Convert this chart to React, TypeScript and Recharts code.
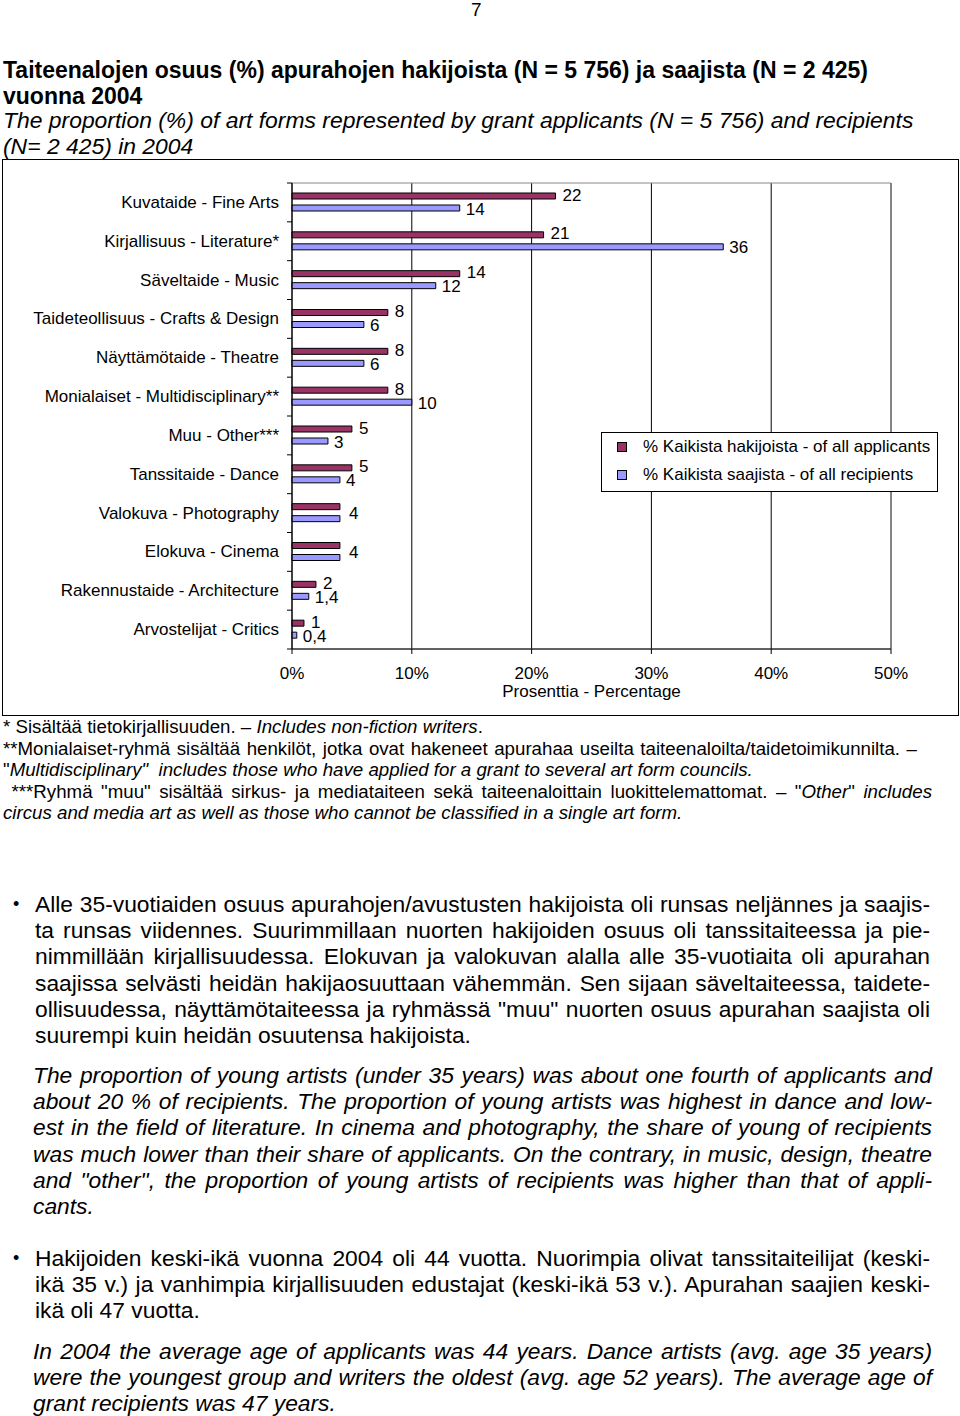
import React from "react";
import {
  Bar,
  BarChart,
  CartesianGrid,
  LabelList,
  Legend,
  ReferenceArea,
  XAxis,
  YAxis,
} from "recharts";

const categories = [
  "Kuvataide - Fine Arts",
  "Kirjallisuus - Literature*",
  "Säveltaide - Music",
  "Taideteollisuus - Crafts & Design",
  "Näyttämötaide - Theatre",
  "Monialaiset - Multidisciplinary**",
  "Muu - Other***",
  "Tanssitaide - Dance",
  "Valokuva - Photography",
  "Elokuva - Cinema",
  "Rakennustaide - Architecture",
  "Arvostelijat - Critics",
];
const applicants = [22, 21, 14, 8, 8, 8, 5, 5, 4, 4, 2, 1];
const recipients = [14, 36, 12, 6, 6, 10, 3, 4, 4, 4, 1.4, 0.4];
const xTicks = [0, 10, 20, 30, 40, 50];

const data = categories.map((name, i) => ({
  name,
  applicants: applicants[i],
  recipients: recipients[i],
}));

const CHART_W = 960;
const CHART_H = 720;
const PLOT_LEFT = 292;
const PLOT_TOP = 183;
const PLOT_RIGHT = 891;
const PLOT_BOTTOM = 649;
const HALF_BAND = (PLOT_BOTTOM - PLOT_TOP) / categories.length / 2;

const FONT = "'Liberation Sans', Arial, sans-serif";
const FS = 17;

const fmt = (v: number) => String(v).replace(".", ",");

function YTick(props: any) {
  const { x, y, payload, index } = props;
  return (
    <g>
      <text x={x} y={y} textAnchor="end" dominantBaseline="central" fontSize={FS} fill="#000" fontFamily={FONT}>
        {payload.value}
      </text>
      <line x1={PLOT_LEFT - 5} x2={PLOT_LEFT} y1={y + HALF_BAND} y2={y + HALF_BAND} stroke="#000" />
      {index === 0 && (
        <line x1={PLOT_LEFT - 5} x2={PLOT_LEFT} y1={y - HALF_BAND} y2={y - HALF_BAND} stroke="#000" />
      )}
    </g>
  );
}

function applicantLabel(props: any) {
  const { x, y, width, height, value, index } = props;
  const same = applicants[index] === recipients[index];
  return (
    <text
      x={x + width + (same ? 9 : 7)}
      y={same ? y + height + 3.5 : y + height / 2 - 1}
      dominantBaseline="central"
      fontSize={FS}
      fill="#000"
      fontFamily={FONT}
    >
      {fmt(value)}
    </text>
  );
}

function recipientLabel(props: any) {
  const { x, y, width, height, value, index } = props;
  if (applicants[index] === recipients[index]) return null;
  return (
    <text
      x={x + width + 6}
      y={y + height / 2 + 1}
      dominantBaseline="central"
      fontSize={FS}
      fill="#000"
      fontFamily={FONT}
    >
      {fmt(value)}
    </text>
  );
}

function LegendBox(props: any) {
  const items = props.payload || [];
  return (
    <div
      style={{
        width: 335,
        height: 58,
        border: "1px solid #000",
        background: "#fff",
        fontFamily: FONT,
        fontSize: FS,
        color: "#000",
      }}
    >
      {items.map((it: any, i: number) => (
        <div
          key={i}
          style={{ position: "absolute", left: 16, top: 5 + i * 28, height: 20, display: "flex", alignItems: "center" }}
        >
          <span
            style={{
              display: "inline-block",
              width: 8,
              height: 8,
              background: it.color,
              border: "1px solid #000",
              marginRight: 16,
            }}
          />
          <span>{it.value}</span>
        </div>
      ))}
    </div>
  );
}

function TextLine({
  children,
  top,
  left,
  width,
  justify,
  style,
}: {
  children: React.ReactNode;
  top: number;
  left: number;
  width: number;
  justify?: boolean;
  style?: React.CSSProperties;
}) {
  return (
    <div
      style={{
        position: "absolute",
        top,
        left,
        width,
        textAlign: justify ? "justify" : "left",
        textAlignLast: justify ? "justify" : "left",
        whiteSpace: "nowrap",
        ...style,
      }}
    >
      {children}
    </div>
  );
}

const para1 = [
  "Alle 35-vuotiaiden osuus apurahojen/avustusten hakijoista oli runsas neljännes ja saajis-",
  "ta runsas viidennes. Suurimmillaan nuorten hakijoiden osuus oli tanssitaiteessa ja pie-",
  "nimmillään kirjallisuudessa. Elokuvan ja valokuvan alalla alle 35-vuotiaita oli apurahan",
  "saajissa selvästi heidän hakijaosuuttaan vähemmän. Sen sijaan säveltaiteessa, taidete-",
  "ollisuudessa, näyttämötaiteessa ja ryhmässä \"muu\" nuorten osuus apurahan saajista oli",
  "suurempi kuin heidän osuutensa hakijoista.",
];
const para2 = [
  "The proportion of young artists (under 35 years) was about one fourth of applicants and",
  "about 20 % of recipients. The proportion of young artists was highest in dance and low-",
  "est in the field of literature. In cinema and photography, the share of young of recipients",
  "was much lower than their share of applicants. On the contrary, in music, design, theatre",
  "and \"other\", the proportion of young artists of recipients was higher than that of appli-",
  "cants.",
];
const para3 = [
  "Hakijoiden keski-ikä vuonna 2004 oli 44 vuotta. Nuorimpia olivat tanssitaiteilijat (keski-",
  "ikä 35 v.) ja vanhimpia kirjallisuuden edustajat (keski-ikä 53 v.). Apurahan saajien keski-",
  "ikä oli 47 vuotta.",
];
const para4 = [
  "In 2004 the average age of applicants was 44 years. Dance artists (avg. age 35 years)",
  "were the youngest group and writers the oldest (avg. age 52 years). The average age of",
  "grant recipients was 47 years.",
];

function Paragraph({
  lines,
  firstCenter,
  left,
  right,
  italic,
}: {
  lines: string[];
  firstCenter: number;
  left: number;
  right: number;
  italic?: boolean;
}) {
  const lh = 26.2;
  return (
    <>
      {lines.map((l, i) => (
        <TextLine
          key={i}
          top={firstCenter + i * lh - 13}
          left={left}
          width={right - left}
          justify={i < lines.length - 1}
          style={{ fontStyle: italic ? "italic" : "normal", lineHeight: "26px" }}
        >
          {l}
        </TextLine>
      ))}
    </>
  );
}

export default function App() {
  return (
    <div
      style={{
        position: "absolute",
        left: 0,
        top: 0,
        width: 960,
        height: 1416,
        background: "#fff",
        color: "#000",
        fontFamily: FONT,
        overflow: "hidden",
      }}
    >
      <TextLine top={0} left={471} width={20} style={{ fontSize: 19, lineHeight: "20px" }}>
        7
      </TextLine>

      <div style={{ fontSize: 23, lineHeight: "26px", fontWeight: "bold" }}>
        <TextLine top={57} left={3} width={940}>
          Taiteenalojen osuus (%) apurahojen hakijoista (N = 5 756) ja saajista (N = 2 425)
        </TextLine>
        <TextLine top={83} left={3} width={300}>
          vuonna 2004
        </TextLine>
      </div>
      <div style={{ fontSize: 22.9, lineHeight: "26px", fontStyle: "italic" }}>
        <TextLine top={107} left={3} width={940}>
          The proportion (%) of art forms represented by grant applicants (N = 5 756) and recipients
        </TextLine>
        <TextLine top={133} left={3} width={300}>
          (N= 2 425) in 2004
        </TextLine>
      </div>

      <div
        style={{
          position: "absolute",
          left: 2,
          top: 159,
          width: 955,
          height: 555,
          border: "1px solid #000",
        }}
      />

      <div style={{ position: "absolute", left: 0, top: 0 }}>
        <BarChart
          width={CHART_W}
          height={CHART_H}
          data={data}
          layout="vertical"
          margin={{
            top: PLOT_TOP,
            right: CHART_W - PLOT_RIGHT,
            bottom: CHART_H - PLOT_BOTTOM - 60,
            left: 0,
          }}
          barSize={6}
          barGap={6}
        >
          <CartesianGrid horizontal={false} stroke="#000" />
          <ReferenceArea x1={0} x2={50} stroke="#888" fill="none" strokeOpacity={1} fillOpacity={0} />
          <XAxis
            type="number"
            domain={[0, 50]}
            ticks={xTicks}
            tickFormatter={(v) => `${v}%`}
            tick={{ fontSize: FS, fill: "#000", fontFamily: FONT }}
            tickLine={{ stroke: "#000" }}
            axisLine={{ stroke: "#000" }}
            tickSize={5}
            tickMargin={13}
            height={60}
            label={{
              value: "Prosenttia - Percentage",
              position: "insideBottom",
              offset: 12,
              fontSize: FS,
              fill: "#000",
              fontFamily: FONT,
            }}
          />
          <YAxis
            type="category"
            dataKey="name"
            width={PLOT_LEFT}
            tick={<YTick />}
            tickLine={false}
            tickSize={5}
            tickMargin={8}
            axisLine={{ stroke: "#000" }}
            interval={0}
          />
          <Legend
            layout="vertical"
            align="center"
            verticalAlign="middle"
            wrapperStyle={{ left: 601, top: 432, width: 337, height: 60 }}
            content={<LegendBox />}
          />
          <Bar
            dataKey="applicants"
            name="% Kaikista hakijoista - of all applicants"
            fill="#993366"
            stroke="#000"
            strokeWidth={1}
            isAnimationActive={false}
          >
            <LabelList dataKey="applicants" content={applicantLabel} />
          </Bar>
          <Bar
            dataKey="recipients"
            name="% Kaikista saajista - of all recipients"
            fill="#9999ff"
            stroke="#000"
            strokeWidth={1}
            isAnimationActive={false}
          >
            <LabelList dataKey="recipients" content={recipientLabel} />
          </Bar>
        </BarChart>
      </div>

      <div style={{ fontSize: 18.7, lineHeight: "21.5px" }}>
        <TextLine top={716} left={3} width={900}>
          * Sisältää tietokirjallisuuden. – <i>Includes non-fiction writers</i>.
        </TextLine>
        <TextLine top={737.5} left={3} width={914} justify>
          **Monialaiset-ryhmä sisältää henkilöt, jotka ovat hakeneet apurahaa useilta taiteenaloilta/taidetoimikunnilta. –
        </TextLine>
        <TextLine top={759} left={3} width={900}>
          "<i>Multidisciplinary"&nbsp; includes those who have applied for a grant to several art form councils.</i>
        </TextLine>
        <TextLine top={780.5} left={3} width={929} justify>
          &nbsp;***Ryhmä "muu" sisältää sirkus- ja mediataiteen sekä taiteenaloittain luokittelemattomat. – "<i>Other</i>" <i>includes</i>
        </TextLine>
        <TextLine top={802} left={3} width={900}>
          <i>circus and media art as well as those who cannot be classified in a single art form.</i>
        </TextLine>
      </div>

      <div style={{ fontSize: 22.8 }}>
        <div style={{ position: "absolute", left: 13, top: 891, lineHeight: "26px", fontSize: 18 }}>•</div>
        <Paragraph lines={para1} firstCenter={904} left={35} right={930} />
        <Paragraph lines={para2} firstCenter={1075} left={33} right={932} italic />
        <div style={{ position: "absolute", left: 13, top: 1245, lineHeight: "26px", fontSize: 18 }}>•</div>
        <Paragraph lines={para3} firstCenter={1258} left={35} right={930} />
        <Paragraph lines={para4} firstCenter={1351} left={33} right={932} italic />
      </div>
    </div>
  );
}
